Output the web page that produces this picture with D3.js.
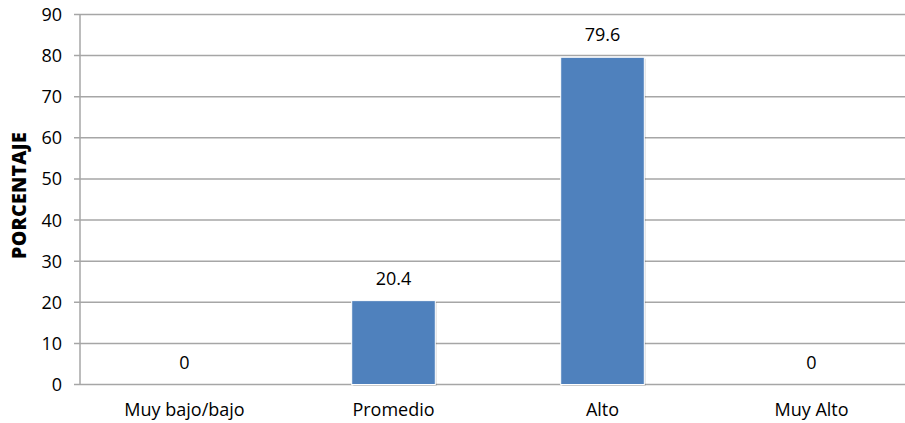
<!DOCTYPE html>
<html>
<head>
<meta charset="utf-8">
<script src="https://cdn.jsdelivr.net/npm/d3@7"></script>
<style>
  body { margin: 0; background: #fff; }
  text { font-family: "Open Sans", "Noto Sans", sans-serif; fill: #000; }
</style>
</head>
<body>
<svg id="chart" width="905" height="423"></svg>
<script>
const categories = ["Muy bajo/bajo", "Promedio", "Alto", "Muy Alto"];
const values = [0, 20.4, 79.6, 0];
const yTicks = [0, 10, 20, 30, 40, 50, 60, 70, 80, 90];

const width = 905, height = 423;
const margin = { top: 14.5, right: -11, bottom: 38.5, left: 80 };
const fontSize = 18;

const svg = d3.select("#chart");

const x = d3.scaleBand()
  .domain(categories)
  .range([margin.left, width - margin.right])
  .paddingInner(0.6)
  .paddingOuter(0.3);

const y = d3.scaleLinear()
  .domain([0, 90])
  .range([height - margin.bottom, margin.top]);

// gridlines
svg.append("g")
  .selectAll("line")
  .data(yTicks)
  .join("line")
  .attr("x1", margin.left - 6)
  .attr("x2", width)
  .attr("y1", d => y(d))
  .attr("y2", d => y(d))
  .attr("stroke", "#a6a6a6")
  .attr("stroke-width", 1.5);

// y axis line
svg.append("line")
  .attr("x1", margin.left).attr("x2", margin.left)
  .attr("y1", y(90)).attr("y2", y(0))
  .attr("stroke", "#a6a6a6")
  .attr("stroke-width", 1.5);

// y tick labels
svg.append("g")
  .selectAll("text")
  .data(yTicks)
  .join("text")
  .attr("x", margin.left - 18)
  .attr("y", d => y(d))
  .attr("dy", "0.36em")
  .attr("text-anchor", "end")
  .attr("font-size", fontSize)
  .text(d => d);

// shadow + bars
const bars = svg.append("g");
bars.selectAll("rect.shadow")
  .data(values)
  .join("rect")
  .attr("class", "shadow")
  .attr("x", (d, i) => x(categories[i]) + 1.5)
  .attr("y", d => y(d) + 1.5)
  .attr("width", x.bandwidth())
  .attr("height", d => y(0) - y(d))
  .attr("fill", "#000")
  .attr("opacity", d => d > 0 ? 0.12 : 0);

bars.selectAll("rect.bar")
  .data(values)
  .join("rect")
  .attr("class", "bar")
  .attr("x", (d, i) => x(categories[i]))
  .attr("y", d => y(d))
  .attr("width", x.bandwidth())
  .attr("height", d => y(0) - y(d))
  .attr("fill", "#4f81bd")
  .attr("stroke", "#fff")
  .attr("stroke-width", d => d > 0 ? 1 : 0);

// value labels
svg.append("g")
  .selectAll("text")
  .data(values)
  .join("text")
  .attr("x", (d, i) => x(categories[i]) + x.bandwidth() / 2)
  .attr("y", d => y(d) - 16)
  .attr("text-anchor", "middle")
  .attr("font-size", fontSize)
  .text(d => d);

// category labels
svg.append("g")
  .selectAll("text")
  .data(categories)
  .join("text")
  .attr("x", d => x(d) + x.bandwidth() / 2)
  .attr("y", y(0) + 31.5)
  .attr("text-anchor", "middle")
  .attr("font-size", fontSize)
  .text(d => d);

// y axis title
svg.append("text")
  .attr("transform", `translate(25.5, ${(y(0) + y(90)) / 2 - 4}) rotate(-90)`)
  .attr("text-anchor", "middle")
  .attr("font-size", 19.5)
  .attr("font-weight", 800)
  .attr("letter-spacing", 0.3)
  .text("PORCENTAJE");
</script>
</body>
</html>
